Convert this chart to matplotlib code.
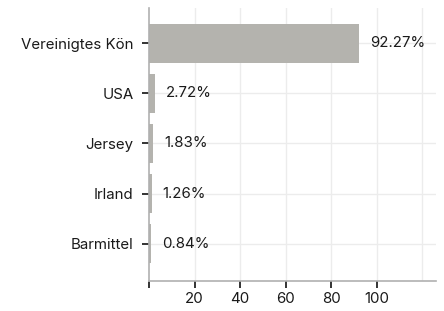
import matplotlib
matplotlib.use("Agg")
import matplotlib.pyplot as plt
import numpy as np

categories = ["Vereinigtes Kön", "USA", "Jersey", "Irland", "Barmittel"]
values = [92.27, 2.72, 1.83, 1.26, 0.84]
value_labels = ["92.27%", "2.72%", "1.83%", "1.26%", "0.84%"]
x_ticks = [0, 20, 40, 60, 80, 100]
x_tick_labels = ["", "20", "40", "60", "80", "100"]

BAR = "#b4b3ae"
SPINE = "#b0b0b0"
GRID = "#ececec"
TEXT = "#1a1a1a"

plt.rcParams.update({
    "font.family": ["Inter", "DejaVu Sans"],
    "font.size": 10.8,
})

fig = plt.figure(figsize=(4.44, 3.11), dpi=100)
ax = fig.add_axes([149 / 444, 30 / 311, (436 - 149) / 444, (281 - 8) / 311])

y = np.arange(len(categories))[::-1]
ax.barh(y, values, height=0.78, color=BAR, zorder=2)
for yi, v, lab in zip(y, values, value_labels):
    ax.text(v + 4.8, yi, lab, va="center", ha="left", fontsize=10.8, color=TEXT)

ax.set_xlim(0, 126)
ax.set_ylim(-0.74, 4.7)
ax.set_yticks(y)
ax.set_yticklabels(categories, fontsize=10.8, color=TEXT)
ax.set_xticks(x_ticks)
ax.set_xticklabels(x_tick_labels, fontsize=10.8, color=TEXT)

for gx in [20, 40, 60, 80, 100, 120]:
    ax.axvline(gx, color=GRID, lw=1, zorder=0)
for yi in y:
    ax.axhline(yi, color=GRID, lw=1, zorder=0)

ax.tick_params(axis="y", length=5, width=1.2, pad=6, color="#111111")
ax.tick_params(axis="x", length=5, width=1.2, pad=3, color="#111111")
for side in ["top", "right"]:
    ax.spines[side].set_visible(False)
for side in ["left", "bottom"]:
    ax.spines[side].set_color(SPINE)
    ax.spines[side].set_linewidth(1.2)

fig.savefig("out.png", dpi=100)
